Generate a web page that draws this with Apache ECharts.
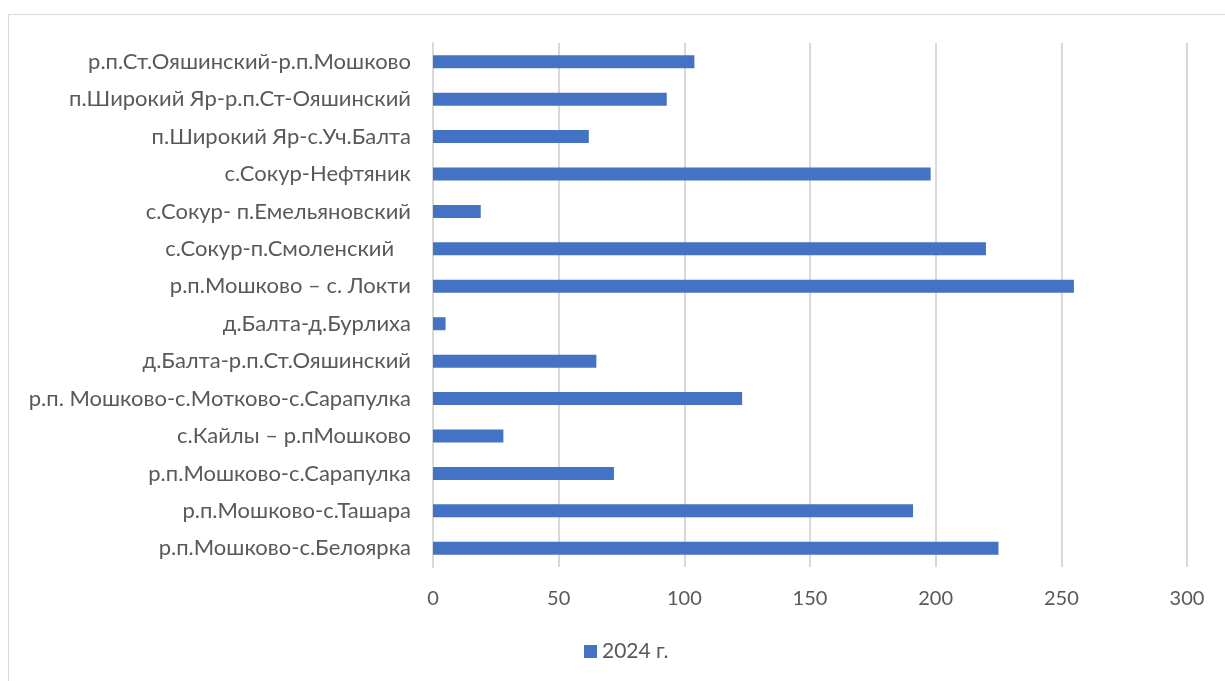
<!DOCTYPE html>
<html><head><meta charset="utf-8">
<script src="https://cdn.jsdelivr.net/npm/echarts@6/dist/echarts.min.js"></script>
<style>html,body{margin:0;padding:0;background:#fff}#c{width:1225px;height:681px}</style>
</head><body><div id="c"></div>
<script>
const categories = [
  "р.п.Ст.Ояшинский-р.п.Мошково",
  "п.Широкий Яр-р.п.Ст-Ояшинский",
  "п.Широкий Яр-с.Уч.Балта",
  "с.Сокур-Нефтяник",
  "с.Сокур- п.Емельяновский",
  "с.Сокур-п.Смоленский   ",
  "р.п.Мошково – с. Локти",
  "д.Балта-д.Бурлиха",
  "д.Балта-р.п.Ст.Ояшинский",
  "р.п. Мошково-с.Мотково-с.Сарапулка",
  "с.Кайлы – р.пМошково",
  "р.п.Мошково-с.Сарапулка",
  "р.п.Мошково-с.Ташара",
  "р.п.Мошково-с.Белоярка"
];
const values2024 = [104, 93, 62, 198, 19, 220, 255, 5, 65, 123, 28, 72, 191, 225];
const seriesName = "2024 г.";
const xTicks = { min: 0, max: 300, interval: 50 };

const chart = echarts.init(document.getElementById('c'), null, {renderer: 'canvas'});
const font = 'Lato, "Open Sans", sans-serif';
chart.setOption({
  animation: false,
  textStyle: { fontFamily: font },
  graphic: [{
    type: 'rect', shape: { x: 8.5, y: 14.5, width: 1230, height: 700 },
    style: { fill: 'none', stroke: '#d9d9d9', lineWidth: 1 }, silent: true
  }],
  legend: {
    bottom: 14, left: 579,
    itemWidth: 13, itemHeight: 13, itemGap: 6,
    icon: 'rect',
    textStyle: { color: '#595959', fontSize: 21, fontFamily: font },
    data: [seriesName]
  },
  grid: { left: 433, right: 38, top: 43, bottom: 114, containLabel: false },
  xAxis: {
    type: 'value', min: xTicks.min, max: xTicks.max, interval: xTicks.interval,
    axisLine: { show: false }, axisTick: { show: false },
    axisLabel: { color: '#595959', fontSize: 20, margin: 22, fontFamily: font },
    splitLine: { show: true, lineStyle: { color: '#d9d9d9', width: 2 } }
  },
  yAxis: {
    type: 'category', data: categories, inverse: true,
    axisLine: { show: true, lineStyle: { color: '#d9d9d9', width: 2 } },
    axisTick: { show: false },
    axisLabel: { color: '#595959', fontSize: 22, margin: 22, fontFamily: font }
  },
  series: [{
    name: seriesName, type: 'bar', data: values2024, barWidth: 13,
    itemStyle: { color: '#4472c4' }
  }]
});
</script></body></html>
